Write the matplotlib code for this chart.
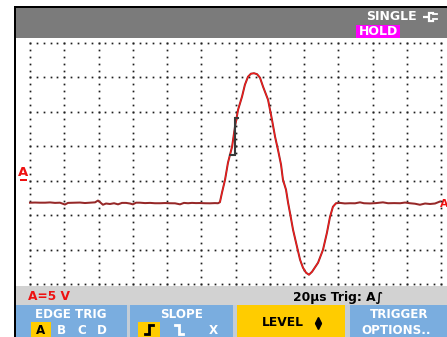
import numpy as np
import matplotlib
matplotlib.use("Agg")
import matplotlib.pyplot as plt
from matplotlib.patches import Rectangle

# ---- captured waveform, channel A (time in µs, amplitude in V) ----
time_us = [0, 2.9, 5.8, 8.8, 11.7, 14.6, 17.5, 20.4, 22.2, 26.3, 29.2, 32.1, 35.0,
           38.0, 39.7, 40.9, 42.6, 44.4, 46.7, 49.1, 51.4, 53.7, 56.1, 58.4, 60.1,
           61.9, 64.2, 67.2, 70.1, 73.0, 75.9, 78.8, 81.8, 84.7, 87.6, 89.9, 92.3,
           94.6, 96.9, 99.3, 102.2, 105.1, 108.0, 109.8, 110.9,
           112.1, 113.9, 115.6, 118.0, 119.7, 121.5, 123.8, 125.5, 127.3, 129.0,
           130.8, 132.6, 134.3, 136.1, 139.0, 141.3, 143.1, 144.8, 146.6, 147.7,
           149.5, 150.7, 151.8, 153.6, 155.9, 157.7, 159.4, 161.2, 162.9, 164.7,
           168.2, 171.1, 173.4, 175.2, 176.9, 178.7,
           181.0, 183.9, 186.9, 189.8, 192.7, 195.0, 198.5, 202.0, 206.1, 209.1,
           212.6, 216.1, 219.0, 221.9, 224.8, 227.7, 230.7, 233.6, 236.5, 239.4]
volts = [-3.19, -3.17, -3.19, -3.19, -3.15, -3.22, -3.19, -3.46, -3.22, -3.19,
         -3.17, -3.24, -3.19, -3.14, -2.88, -3.12, -3.49, -3.31, -3.38, -3.27,
         -3.43, -3.22, -3.22, -3.31, -3.43, -3.19, -3.19, -3.25, -3.22, -3.27,
         -3.27, -3.24, -3.27, -3.28, -3.43, -3.22, -3.27, -3.22, -3.25, -3.24,
         -3.27, -3.28, -3.25, -3.27, -3.12,
         -1.74, 0.15, 2.61, 4.94, 7.84, 10.31, 12.20, 13.94, 15.10, 15.54,
         15.61, 15.47, 14.96, 13.65, 11.76, 8.86, 6.39, 4.50, 2.32, 0.15,
         -1.31, -3.19, -4.65, -7.12, -9.58, -11.47, -12.63, -13.36, -13.65, -13.22,
         -11.91, -10.02, -7.55, -5.23, -3.78, -3.27,
         -3.22, -3.30, -3.27, -3.28, -3.14, -3.27, -3.30, -3.25, -3.14, -3.27,
         -3.25, -3.27, -3.17, -3.27, -3.34, -3.49, -3.31, -3.38, -3.31, -3.02]

# trigger level marker (time, low / high level)
trig_time = 119.7
trig_low, trig_high = 3.8, 9.1

# screen scale: 20 µs/div over 12 divisions, 5 V/div over 7 divisions
t_div, v_div = 20, 5
n_tdiv, v_min, v_max = 12, -15, 20

# ---- colours ----
TOP_GRAY = "#7b7b7b"
STATUS_GRAY = "#d2d2d2"
BTN_BLUE = "#7aaddf"
BTN_SEP = "#c4cdd6"
YELLOW = "#ffcc00"
MAGENTA = "#ff00ff"
TRACE_DARK = "#962828"
TRACE_RED = "#ff1a1a"
RED = "#ee1111"

W, H = 447, 337
fig = plt.figure(figsize=(W / 100, H / 100), dpi=100)
fig.patch.set_facecolor("white")

# chrome layer in pixel coordinates
ui = fig.add_axes([0, 0, 1, 1])
ui.set_xlim(0, W)
ui.set_ylim(H, 0)
ui.axis("off")

def box(x0, y0, x1, y1, color, z=1):
    ui.add_patch(Rectangle((x0, y0), x1 - x0, y1 - y0, facecolor=color,
                           edgecolor="none", zorder=z))

# frame
box(14, 6, W, 8, "black")
box(14, 6, 16, H, "black")
box(16, 8, W, 38, TOP_GRAY)
box(16, 286, W, 305, STATUS_GRAY)
box(16, 305, W, H, BTN_SEP)
box(16, 305, 127, H, BTN_BLUE)
box(130, 305, 233, H, BTN_BLUE)
box(237, 305, 345, H, YELLOW)
box(350, 305, W, H, BTN_BLUE)

fb = dict(family="DejaVu Sans", weight="bold")

# top bar
ui.text(391, 17, "SINGLE", color="white", fontsize=9, ha="center", va="center", **fb)
ui.plot([423, 428], [16.5, 16.5], color="white", lw=1.6, solid_capstyle="butt")
ui.plot([433, 428.5, 428.5, 433], [12.5, 12.5, 20.5, 20.5], color="white", lw=1.6,
        solid_joinstyle="miter")
ui.plot([433, 437], [14, 14], color="white", lw=1.3)
ui.plot([433, 437], [19, 19], color="white", lw=1.3)
box(356, 25, 400, 37.5, MAGENTA, z=2)
ui.text(378, 31.5, "HOLD", color="white", fontsize=9, ha="center", va="center",
        zorder=3, **fb)

# status line
ui.text(28, 297, "A=5 V", color=RED, fontsize=8.8, ha="left", va="center", **fb)
ui.text(293, 297, "20µs Trig: A∫", color="black", fontsize=8.8, ha="left",
        va="center", **fb)

# soft-key labels
ui.text(71, 314, "EDGE TRIG", color="white", fontsize=8.6, ha="center", va="center", **fb)
box(31, 322, 51, H, YELLOW, z=2)
for x, s in zip([41, 61, 81.5, 101.5], ["A", "B", "C", "D"]):
    ui.text(x, 330, s, color="black" if s == "A" else "white", fontsize=8.6,
            ha="center", va="center", zorder=3, **fb)
ui.text(182, 314, "SLOPE", color="white", fontsize=8.6, ha="center", va="center", **fb)
box(138, 322, 160, H, YELLOW, z=2)
ui.plot([145, 149, 149, 153], [334, 334, 325, 325], color="black", lw=2, zorder=3,
        solid_joinstyle="miter")
ui.plot([175, 179, 179, 183], [325, 325, 334, 334], color="white", lw=2, zorder=3,
        solid_joinstyle="miter")
ui.text(213, 330, "X", color="white", fontsize=8.6, ha="center", va="center", **fb)
ui.text(283, 322.5, "LEVEL", color="black", fontsize=8.8, ha="center", va="center", **fb)
ui.plot([318], [319.5], marker="^", color="black", markersize=4.2, zorder=3)
ui.plot([318], [325.5], marker="v", color="black", markersize=4.2, zorder=3)
ui.text(399, 314, "TRIGGER", color="white", fontsize=8.6, ha="center", va="center", **fb)
ui.text(396, 330, "OPTIONS..", color="white", fontsize=8.6, ha="center", va="center", **fb)

# ---- waveform area ----
px_t = t_div * n_tdiv / 411.0          # µs per pixel
px_v = v_div / 34.43                   # V per pixel
t_lo = -14 * px_t
t_hi = t_lo + 431 * px_t
v_hi = v_max + 5 * px_v
v_lo = v_hi - 248 * px_v

ax = fig.add_axes([16 / W, (H - 286) / H, 431 / W, 248 / H])
ax.set_xlim(t_lo, t_hi)
ax.set_ylim(v_lo, v_hi)
ax.axis("off")
ax.set_facecolor("white")

# dotted graticule: 5 dots per division
t_major = np.arange(0, t_div * n_tdiv + 1, t_div)
v_major = np.arange(v_min, v_max + 1, v_div)
t_minor = np.arange(0, t_div * n_tdiv + 0.1, t_div / 5)
v_minor = np.arange(v_min, v_max + 0.1, v_div / 5)
gx = np.concatenate([np.repeat(t_major, len(v_minor)), np.tile(t_minor, len(v_major))])
gy = np.concatenate([np.tile(v_minor, len(t_major)), np.repeat(v_major, len(t_minor))])
ax.plot(gx, gy, ls="none", marker="s", markersize=1.25, color="#1e1e1e",
        markeredgewidth=0, zorder=1)

t = np.array(time_us)
v = np.array(volts)
ax.plot(t, v, color=TRACE_DARK, lw=1.45, zorder=3, solid_joinstyle="round")
pulse = (t >= 110.9) & (t <= 178.7)
ax.plot(t[pulse], v[pulse], color=TRACE_RED, lw=0.7, zorder=4)

# trigger marker
ax.plot([trig_time - 3, trig_time, trig_time, trig_time + 2],
        [trig_low, trig_low, trig_high, trig_high], color="#3a3a3a", lw=1.5,
        zorder=5, solid_joinstyle="miter")

# channel A ground markers
ui.text(23.5, 172.5, "A", color=RED, fontsize=9.5, ha="center", va="center", zorder=6, **fb)
box(20, 178.5, 27, 181, RED, z=6)
ui.text(440, 204, "A", color=RED, fontsize=7.8, ha="left", va="center", zorder=6, **fb)

fig.savefig("out.png", dpi=100)
